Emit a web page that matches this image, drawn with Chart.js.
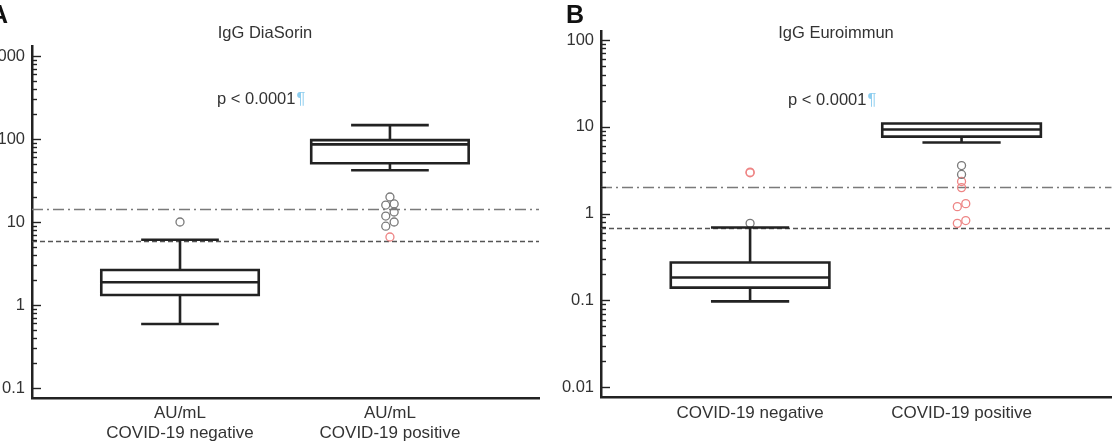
<!DOCTYPE html>
<html>
<head>
<meta charset="utf-8">
<script src="https://cdn.jsdelivr.net/npm/chart.js@4.4.1/dist/chart.umd.min.js"></script>
<style>
  html, body { margin: 0; padding: 0; background: #fff; overflow: hidden; }
  body { width: 1117px; height: 442px; position: relative; }
  canvas { position: absolute; top: 0; }
  #chartA { left: -12px; }
  #chartB { left: 558px; }
</style>
</head>
<body>
<canvas id="chartA" width="570" height="442"></canvas>
<canvas id="chartB" width="559" height="442"></canvas>
<script>
// category positions on the x axis
const groupPos = [1, 2];
const labelsA = [['AU/mL', 'COVID-19 negative'], ['AU/mL', 'COVID-19 positive']];
const labelsB = ['COVID-19 negative', 'COVID-19 positive'];

// A: IgG DiaSorin (AU/mL)
const diaWhiskerLow = [0.59, 42];
const diaQ1 = [1.32, 51];
const diaMedian = [1.88, 86];
const diaQ3 = [2.64, 97];
const diaWhiskerHigh = [6.1, 147];
const diaGrayX = [1, 2, 1.98, 2.02, 2.02, 1.98, 2.02, 1.98];
const diaGrayY = [10, 20, 16, 16.5, 13.2, 11.8, 10, 8.9];
const diaRedX = [2];
const diaRedY = [6.6];
const diaCutoffs = [14.2, 5.9];
const decadesA = [0.1, 1, 10, 100, 1000];

// B: IgG Euroimmun (ratio)
const eurWhiskerLow = [0.097, 6.6];
const eurQ1 = [0.14, 7.7];
const eurMedian = [0.183, 9.3];
const eurQ3 = [0.272, 10.9];
const eurWhiskerHigh = [0.69, 10.9];
const eurGrayX = [1, 2, 2];
const eurGrayY = [0.77, 3.57, 2.82];
const eurRedX = [1, 1, 2, 2, 1.98, 2.02, 1.98, 2.02];
const eurRedY = [3.0, 2.95, 2.34, 1.99, 1.2, 1.3, 0.77, 0.83];
const eurCutoffs = [2.0, 0.68];
const decadesB = [0.01, 0.1, 1, 10, 100];

function tickList(decades) {
  const out = [];
  decades.forEach((d, i) => {
    out.push(d);
    if (i < decades.length - 1) {
      for (let k = 2; k <= 9; k++) out.push(k * d);
    }
  });
  return out;
}

function points(xs, ys) {
  return xs.map((x, i) => ({ x: x, y: ys[i] }));
}

const boxPlotPlugin = {
  id: 'boxPlot',
  beforeDatasetsDraw(chart, args, o) {
    const { ctx, chartArea, scales: { y } } = chart;
    ctx.save();
    ctx.beginPath();
    ctx.rect(chartArea.left, chartArea.top, chartArea.width, chartArea.height);
    ctx.clip();
    o.cutoffs.forEach((v, i) => {
      const py = Math.round(y.getPixelForValue(v)) + 0.5;
      ctx.beginPath();
      ctx.setLineDash(i === 0 ? [11, 4, 2, 4] : [5, 3]);
      ctx.strokeStyle = i === 0 ? '#7a7a7a' : '#555';
      ctx.lineWidth = 1.6;
      ctx.moveTo(chartArea.left, py);
      ctx.lineTo(chartArea.right, py);
      ctx.stroke();
    });
    ctx.restore();
  },
  afterDatasetsDraw(chart, args, o) {
    const { ctx, scales: { x, y } } = chart;
    const unit = x.getPixelForValue(2) - x.getPixelForValue(1);
    ctx.save();
    ctx.strokeStyle = '#222';
    ctx.lineWidth = 2.6;
    ctx.setLineDash([]);
    o.pos.forEach((p, i) => {
      const cx = x.getPixelForValue(p);
      const bw = unit * 0.75 / 2;
      const cw = unit * 0.37 / 2;
      const yLo = y.getPixelForValue(o.low[i]);
      const y1 = y.getPixelForValue(o.q1[i]);
      const ym = y.getPixelForValue(o.median[i]);
      const y3 = y.getPixelForValue(o.q3[i]);
      const yHi = y.getPixelForValue(o.high[i]);
      ctx.beginPath();
      ctx.rect(cx - bw, y3, bw * 2, y1 - y3);
      ctx.moveTo(cx - bw, ym); ctx.lineTo(cx + bw, ym);
      ctx.moveTo(cx, y3); ctx.lineTo(cx, yHi);
      ctx.moveTo(cx, y1); ctx.lineTo(cx, yLo);
      ctx.stroke();
      ctx.beginPath();
      if (yHi < y3 - 1) { ctx.moveTo(cx - cw, yHi); ctx.lineTo(cx + cw, yHi); }
      ctx.moveTo(cx - cw, yLo); ctx.lineTo(cx + cw, yLo);
      ctx.stroke();
    });
    ctx.restore();
  },
  afterDraw(chart, args, o) {
    const { ctx, chartArea, scales: { y } } = chart;
    ctx.save();
    // inward tick marks on the log axis
    ctx.strokeStyle = '#222';
    ctx.lineWidth = 1.4;
    y.ticks.forEach(t => {
      const py = Math.round(y.getPixelForValue(t.value)) + 0.5;
      const len = o.decades.includes(t.value) ? 9 : 5;
      ctx.beginPath();
      ctx.moveTo(chartArea.left, py);
      ctx.lineTo(chartArea.left + len, py);
      ctx.stroke();
    });
    // panel letter, title and p value
    ctx.fillStyle = '#111';
    ctx.font = 'bold 25px "Liberation Sans", Arial, sans-serif';
    ctx.textAlign = 'left';
    ctx.textBaseline = 'alphabetic';
    ctx.fillText(o.letter, o.letterX, 23);
    ctx.fillStyle = '#333';
    ctx.font = '16.5px "Liberation Sans", Arial, sans-serif';
    ctx.textAlign = 'center';
    ctx.textBaseline = 'middle';
    ctx.fillText(o.title, o.titleX, 33);
    ctx.textAlign = 'left';
    const pText = 'p < 0.0001';
    ctx.fillText(pText, o.pX, o.pY);
    const w = ctx.measureText(pText).width;
    ctx.fillStyle = '#8ccdef';
    ctx.fillText('\u00B6', o.pX + w + 1, o.pY);
    ctx.restore();
  }
};

function makeChart(id, cfg) {
  const ticks = tickList(cfg.decades);
  return new Chart(document.getElementById(id), {
    type: 'scatter',
    data: {
      datasets: [
        {
          data: points(cfg.grayX, cfg.grayY),
          borderColor: '#7a7a7a',
          backgroundColor: 'rgba(0,0,0,0)',
          pointRadius: 4,
          pointBorderWidth: 1.3
        },
        {
          data: points(cfg.redX, cfg.redY),
          borderColor: '#ee8585',
          backgroundColor: 'rgba(0,0,0,0)',
          pointRadius: 4,
          pointBorderWidth: 1.3
        }
      ]
    },
    options: {
      responsive: false,
      animation: false,
      layout: { padding: { top: cfg.top, right: cfg.right, left: 0, bottom: 0 } },
      plugins: {
        legend: { display: false },
        tooltip: { enabled: false },
        boxPlot: {
          pos: groupPos,
          low: cfg.low, q1: cfg.q1, median: cfg.median, q3: cfg.q3, high: cfg.high,
          cutoffs: cfg.cutoffs,
          decades: cfg.decades,
          letter: cfg.letter, letterX: cfg.letterX,
          title: cfg.title, titleX: cfg.titleX,
          pX: cfg.pX, pY: cfg.pY
        }
      },
      scales: {
        x: {
          type: 'linear',
          min: 0.295,
          max: 2.71,
          afterBuildTicks: s => { s.ticks = groupPos.map(v => ({ value: v })); },
          afterFit: s => { s.height = cfg.bottom; },
          grid: { display: false, drawTicks: false },
          border: { display: true, color: '#222', width: 2.5 },
          ticks: {
            autoSkip: false,
            maxRotation: 0,
            padding: cfg.xPad,
            color: '#333',
            font: { family: '"Liberation Sans", Arial, sans-serif', size: 17, lineHeight: 1.2 },
            callback: (v, i) => cfg.labels[i]
          }
        },
        y: {
          type: 'logarithmic',
          min: cfg.min,
          max: cfg.max,
          afterBuildTicks: s => { s.ticks = ticks.map(v => ({ value: v })); },
          afterFit: s => { s.width = cfg.axisW; },
          grid: { display: false, drawTicks: false },
          border: { display: true, color: '#222', width: 2.5 },
          ticks: {
            autoSkip: false,
            padding: 7,
            color: '#333',
            font: { family: '"Liberation Sans", Arial, sans-serif', size: 16.5 },
            callback: v => cfg.decades.includes(v) ? String(v) : ''
          }
        }
      }
    },
    plugins: [boxPlotPlugin]
  });
}

makeChart('chartA', {
  grayX: diaGrayX, grayY: diaGrayY, redX: diaRedX, redY: diaRedY,
  low: diaWhiskerLow, q1: diaQ1, median: diaMedian, q3: diaQ3, high: diaWhiskerHigh,
  cutoffs: diaCutoffs, decades: decadesA, labels: labelsA,
  min: Math.pow(10, -1.12), max: Math.pow(10, 3.12),
  top: 46, bottom: 44, right: 19, axisW: 44, xPad: 5,
  letter: 'A', letterX: 2, title: 'IgG DiaSorin', titleX: 277, pX: 229, pY: 99
});

makeChart('chartB', {
  grayX: eurGrayX, grayY: eurGrayY, redX: eurRedX, redY: eurRedY,
  low: eurWhiskerLow, q1: eurQ1, median: eurMedian, q3: eurQ3, high: eurWhiskerHigh,
  cutoffs: eurCutoffs, decades: decadesB, labels: labelsB,
  min: Math.pow(10, -2.115), max: Math.pow(10, 2.104),
  top: 31, bottom: 45, right: 5, axisW: 43, xPad: 6,
  letter: 'B', letterX: 8, title: 'IgG Euroimmun', titleX: 278, pX: 230, pY: 100
});
</script>
</body>
</html>
